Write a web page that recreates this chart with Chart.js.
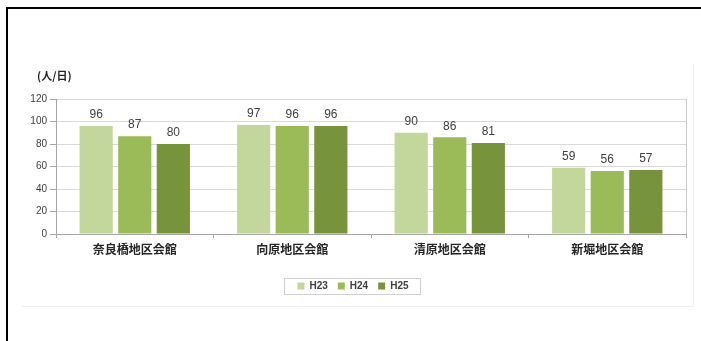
<!DOCTYPE html>
<html>
<head>
<meta charset="utf-8">
<script src="https://cdn.jsdelivr.net/npm/chart.js@4"></script>
<style>
  html, body { margin: 0; padding: 0; background: #fff; }
  #wrap { position: relative; width: 701px; height: 341px; overflow: hidden; }
  #frame { position: absolute; left: 6px; top: 7px; width: 720px; height: 360px;
           border-top: 2px solid #000; border-left: 2px solid #000; pointer-events: none; }
  canvas { position: absolute; left: 0; top: 0; }
</style>
</head>
<body>
<div id="wrap">
  <canvas id="c" width="701" height="341"></canvas>
  <div id="frame"></div>
</div>
<script>
// Daily visitors per community hall (persons/day), fiscal years H23–H25
const categories = ['奈良橋地区会館', '向原地区会館', '清原地区会館', '新堀地区会館'];
const seriesNames = ['H23', 'H24', 'H25'];
const h23 = [96, 97, 90, 59];
const h24 = [87, 96, 86, 56];
const h25 = [80, 96, 81, 57];
const yTicks = [0, 20, 40, 60, 80, 100, 120];
const unitLabel = '(人/日)';

const colors = ['#c3d69b', '#9bbb59', '#77933c'];
const textColor = '#404040';
const numFont = '"Liberation Sans", Arial, sans-serif';
const jpFont = '"Noto Sans CJK JP", sans-serif';

// Value labels above each bar, unit caption, plot frame and legend box
const decorations = {
  id: 'decorations',
  beforeDraw(chart) {
    const ctx = chart.ctx;
    ctx.save();
    // faint outline of the chart panel (right and bottom edges)
    ctx.strokeStyle = '#eeeeee';
    ctx.lineWidth = 1;
    ctx.beginPath();
    ctx.moveTo(22, 306.5);
    ctx.lineTo(693.5, 306.5);
    ctx.lineTo(693.5, 64);
    ctx.stroke();
    ctx.restore();
  },
  afterDatasetsDraw(chart) {
    const ctx = chart.ctx;
    const area = chart.chartArea;
    ctx.save();
    // right edge of the plot area
    ctx.strokeStyle = '#c8c8c8';
    ctx.lineWidth = 1;
    ctx.beginPath();
    ctx.moveTo(Math.round(area.right) + 0.5, area.top);
    ctx.lineTo(Math.round(area.right) + 0.5, area.bottom);
    ctx.stroke();

    // value labels
    ctx.fillStyle = textColor;
    ctx.font = '12px ' + numFont;
    ctx.textAlign = 'center';
    ctx.textBaseline = 'middle';
    chart.data.datasets.forEach((ds, i) => {
      chart.getDatasetMeta(i).data.forEach((bar, j) => {
        ctx.fillText(String(ds.data[j]), bar.x, bar.y - 11);
      });
    });

    // unit caption
    ctx.font = 'bold 11px ' + jpFont;
    ctx.textAlign = 'left';
    ctx.fillStyle = '#262626';
    ctx.fillText(unitLabel, 37, 76);
    ctx.restore();
  },
  afterDraw(chart) {
    const lg = chart.legend;
    if (!lg || !lg.legendHitBoxes || !lg.legendHitBoxes.length) return;
    const boxes = lg.legendHitBoxes;
    const first = boxes[0], last = boxes[boxes.length - 1];
    const x0 = first.left - 13, x1 = last.left + last.width + 12;
    const cy = first.top + first.height / 2;
    const ctx = chart.ctx;
    ctx.save();
    ctx.strokeStyle = '#d0d0d0';
    ctx.lineWidth = 1;
    ctx.strokeRect(Math.round(x0) + 0.5, Math.round(cy - 8) + 0.5, Math.round(x1 - x0), 16);
    ctx.restore();
  }
};

new Chart(document.getElementById('c'), {
  type: 'bar',
  data: {
    labels: categories,
    datasets: [h23, h24, h25].map((vals, i) => ({
      label: seriesNames[i],
      data: vals,
      backgroundColor: colors[i],
      borderWidth: 0,
      categoryPercentage: 0.735,
      barPercentage: 0.86
    }))
  },
  options: {
    responsive: false,
    animation: false,
    devicePixelRatio: 1,
    layout: { padding: { left: 20, right: 15, top: 99, bottom: 40 } },
    plugins: {
      tooltip: { enabled: false },
      legend: {
        position: 'bottom',
        labels: {
          boxWidth: 7,
          boxHeight: 7,
          padding: 10,
          color: textColor,
          font: { family: numFont, size: 10, weight: 'bold' }
        }
      }
    },
    scales: {
      x: {
        grid: { drawOnChartArea: false, drawTicks: true, tickLength: 4, color: '#a6a6a6' },
        border: { color: '#a6a6a6' },
        ticks: { color: '#262626', padding: 4, font: { family: jpFont, size: 12, weight: 'bold' } },
        afterFit(scale) { scale.height = 37; }
      },
      y: {
        min: 0,
        max: 120,
        afterBuildTicks(scale) { scale.ticks = yTicks.map(v => ({ value: v })); },
        grid: { color: '#d9d9d9', tickLength: 6, tickColor: '#a6a6a6' },
        border: { color: '#a6a6a6' },
        ticks: { color: textColor, padding: 3, font: { family: numFont, size: 10 } },
        afterFit(scale) { scale.width = 36; }
      }
    }
  },
  plugins: [decorations]
});
</script>
</body>
</html>
